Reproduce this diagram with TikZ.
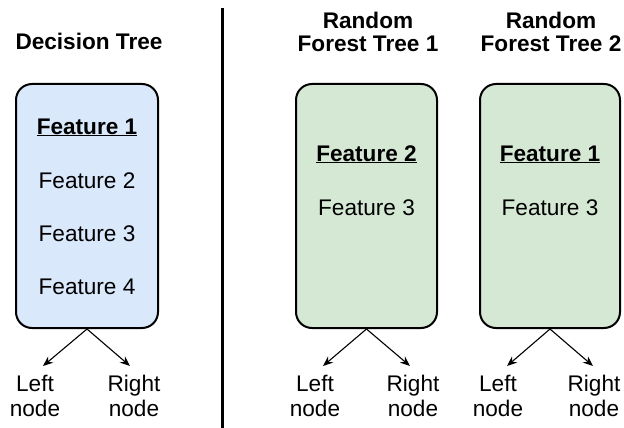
\documentclass[tikz,border=0pt]{standalone}
\usepackage{fontspec}
\setmainfont{Liberation Sans}
\usetikzlibrary{arrows.meta}
\definecolor{dtblue}{HTML}{DAE8FC}
\definecolor{rfgreen}{HTML}{D5E8D4}
\begin{document}
\begin{tikzpicture}[x=1pt,y=-1pt,
  treebox/.style={draw=black,line width=2pt,rounded corners=16pt,inner sep=0pt},
  feat/.style={anchor=base,inner sep=0pt,font=\fontsize{22.6}{26}\selectfont},
  title/.style={align=center,inner sep=0pt,font=\fontsize{22.6}{23.5}\selectfont\bfseries},
  leaf/.style={align=center,inner sep=0pt,font=\fontsize{22.6}{25.5}\selectfont},
  split/.style={-{Stealth[length=10pt,width=8pt]},line width=1.1pt}]
\useasboundingbox (0,0) rectangle (624,428);
% titles
\node[title] (tdt) at (89,41) {Decision Tree};
\node[title] (trf1) at (368,32) {Random\\Forest Tree 1};
\node[title] (trf2) at (551,32) {Random\\Forest Tree 2};
% separator
\coordinate (septop) at (222,8);
\coordinate (sepbot) at (222,428);
\draw[line width=3pt] (septop) -- (sepbot);
% boxes
\node[treebox,fill=dtblue,minimum width=142pt,minimum height=244pt] (dt) at (87,206) {};
\node[treebox,fill=rfgreen,minimum width=141pt,minimum height=244pt] (rf1) at (366.5,206) {};
\node[treebox,fill=rfgreen,minimum width=140pt,minimum height=244pt] (rf2) at (550,206) {};
% features
\node[feat] (dtf1) at (87,134) {\bfseries\underline{Feature 1}};
\node[feat] (dtf2) at (87,188) {Feature 2};
\node[feat] (dtf3) at (87,241) {Feature 3};
\node[feat] (dtf4) at (87,294) {Feature 4};
\node[feat] (rf1f2) at (366.5,161) {\bfseries\underline{Feature 2}};
\node[feat] (rf1f3) at (366.5,215) {Feature 3};
\node[feat] (rf2f1) at (550,161) {\bfseries\underline{Feature 1}};
\node[feat] (rf2f3) at (550,215) {Feature 3};
% children
\node[leaf] (dtl) at (35,396) {Left\\node};
\node[leaf] (dtr) at (134,396) {Right\\node};
\node[leaf] (rf1l) at (315,396) {Left\\node};
\node[leaf] (rf1r) at (413,396) {Right\\node};
\node[leaf] (rf2l) at (498,396) {Left\\node};
\node[leaf] (rf2r) at (594,396) {Right\\node};
\coordinate (dtla) at (43,366);
\coordinate (dtra) at (130,366);
\coordinate (rf1la) at (323,366);
\coordinate (rf1ra) at (410,366);
\coordinate (rf2la) at (507,366);
\coordinate (rf2ra) at (593,366);
\draw[split] (dt.south) -- (dtla);
\draw[split] (dt.south) -- (dtra);
\draw[split] (rf1.south) -- (rf1la);
\draw[split] (rf1.south) -- (rf1ra);
\draw[split] (rf2.south) -- (rf2la);
\draw[split] (rf2.south) -- (rf2ra);
\end{tikzpicture}
\end{document}
